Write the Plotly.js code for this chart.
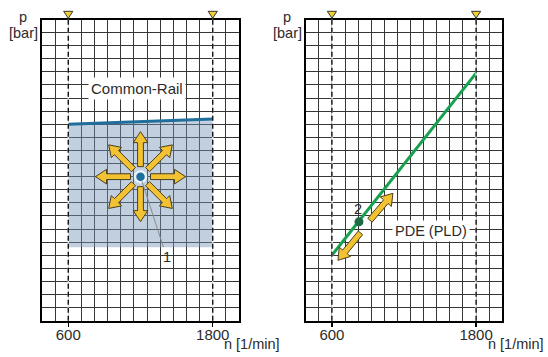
<!DOCTYPE html>
<html><head><meta charset="utf-8">
<script src="https://cdn.plot.ly/plotly-3.0.1.min.js"></script>
<style>html,body{margin:0;padding:0;background:#fff}#c{width:548px;height:357px}</style>
</head><body><div id="c"></div>
<script>
// ---- data ----
var speedTicks = [600, 1800];               // n [1/min]
var tickLabels = ['600', '1800'];
var railN = [600, 1800];                    // Common-Rail upper pressure line
var railP = [15.0, 15.4];
var mapN = [600, 1800, 1800, 600, 600];     // Common-Rail map area
var mapP = [5.6, 5.6, 15.4, 15.0, 5.6];
var opN1 = [1200], opP1 = [11.0];           // operating point 1
var pdeN = [600, 1800];                     // PDE (PLD) pressure line
var pdeP = [5.0, 18.9];
var opN2 = [825], opP2 = [7.55];            // operating point 2

// ---- geometry helpers ----
var cell = 1200 / 11;
var xr = [600 - 2 * cell, 1800 + 2 * cell];
var yr = [0, 23];
var yellow = '#f3c232', dark = '#4a3f1f';

function arrowPath(tx, ty, hx, hy) {
  var dx = hx - tx, dy = hy - ty, L = Math.sqrt(dx * dx + dy * dy);
  var ux = dx / L, uy = dy / L, nx = -uy, ny = ux;
  var w = 2.9, hw = 7.3, hl = 11;
  var kx = hx - ux * hl, ky = hy - uy * hl;
  var p = [
    [tx + nx * w, ty + ny * w], [kx + nx * w, ky + ny * w], [kx + nx * hw, ky + ny * hw],
    [hx, hy], [kx - nx * hw, ky - ny * hw], [kx - nx * w, ky - ny * w], [tx - nx * w, ty - ny * w]
  ];
  return 'M' + p.map(function (q) { return q[0].toFixed(1) + ',' + q[1].toFixed(1); }).join('L') + 'Z';
}
function arrowShape(xref, yref, ax, ay, tx, ty, hx, hy) {
  return {type: 'path', xref: xref, yref: yref, xsizemode: 'pixel', ysizemode: 'pixel',
    xanchor: ax, yanchor: ay, path: arrowPath(tx, ty, hx, hy),
    fillcolor: yellow, line: {color: dark, width: 1}, layer: 'above'};
}

var shapes = [];
// dashed speed-limit lines at 600 and 1800 in both panels, with marker triangles on top
[['x', 'y'], ['x2', 'y2']].forEach(function (r) {
  speedTicks.forEach(function (n) {
    shapes.push({type: 'line', xref: r[0], yref: r[1] + ' domain', x0: n, x1: n, y0: 0, y1: 1,
      line: {color: 'rgba(255,255,255,0.85)', width: 1.4}, layer: 'above'});
    shapes.push({type: 'line', xref: r[0], yref: r[1] + ' domain', x0: n, x1: n, y0: 0, y1: 1,
      line: {color: '#111', width: 1.4, dash: '5px,3px'}, layer: 'above'});
    shapes.push({type: 'path', xref: r[0], yref: r[1] + ' domain', xsizemode: 'pixel', ysizemode: 'pixel',
      xanchor: n, yanchor: 1, path: 'M-4.6,8.2L4.6,8.2L0,1.2Z',
      fillcolor: '#f0d030', line: {color: '#333', width: 1}, layer: 'above'});
  });
});
// eight arrows around point 1
var angles = [0, 45, 90, 135, 180, 225, 270, 315];
angles.forEach(function (a) {
  var r = a * Math.PI / 180, c = Math.cos(r), s = Math.sin(r);
  shapes.push(arrowShape('x', 'y', opN1[0], opP1[0], c * 10, s * 10, c * 45, s * 45));
});
// two arrows along PDE line near point 2
shapes.push(arrowShape('x2', 'y2', opN2[0], opP2[0], 11, 1.6, 34, 28.5));
shapes.push(arrowShape('x2', 'y2', opN2[0], opP2[0], 1.5, -11, -21, -38.5));

var txt = '#2b2b2b';
var fam = 'Liberation Sans, Arial, sans-serif';
var font = {family: fam, size: 14.5, color: txt};

function axX(dom, anchor) {
  return {domain: dom, anchor: anchor, range: xr, tickmode: 'array', tickvals: speedTicks, ticktext: tickLabels,
    ticks: 'outside', ticklen: 4, tickcolor: '#000', tickwidth: 1.2, ticklabelstandoff: -5,
    tickfont: {family: fam, size: 15, color: txt},
    showgrid: false,
    minor: {tick0: 600 - 2 * cell, dtick: cell, showgrid: true, gridcolor: '#363636', gridwidth: 1, ticks: ''},
    showline: true, mirror: true, linecolor: '#000', linewidth: 2, zeroline: false, fixedrange: true};
}
function axY(dom, anchor) {
  return {domain: dom, anchor: anchor, range: yr, dtick: 1, tick0: 0, showticklabels: false, ticks: '',
    showgrid: true, gridcolor: '#363636', gridwidth: 1, showline: true, mirror: true, linecolor: '#000',
    linewidth: 2, zeroline: false, fixedrange: true};
}

function paperText(px, py, text, xa) {
  return {xref: 'paper', yref: 'paper', x: px / 548, y: 1 - py / 357, xanchor: xa || 'center', yanchor: 'middle',
    text: text, showarrow: false, font: font};
}

var yd = [1 - 320.7 / 357, 1 - 19.5 / 357];
var layout = {
  width: 548, height: 357, margin: {l: 0, r: 0, t: 0, b: 0}, showlegend: false,
  paper_bgcolor: '#fff', plot_bgcolor: '#fff', font: font,
  xaxis: axX([42 / 548, 239 / 548], 'y'), yaxis: axY(yd, 'x'),
  xaxis2: axX([305.7 / 548, 502.3 / 548], 'y2'), yaxis2: axY(yd, 'x2'),
  shapes: shapes,
  annotations: [
    paperText(22.5, 17, 'p'),
    paperText(23, 33, '[bar]'),
    paperText(287, 17, 'p'),
    paperText(287.5, 33, '[bar]'),
    paperText(222, 344, 'n [1/min]', 'left'),
    paperText(486, 344, 'n [1/min]', 'left'),
    {xref: 'x', yref: 'y', x: 1170, y: 17.7, text: 'Common-Rail', showarrow: false, bgcolor: '#fff', borderpad: 2,
      font: {family: fam, size: 15, color: txt}},
    {xref: 'x', yref: 'y', x: opN1[0], y: opP1[0], text: '1', showarrow: true, arrowhead: 0, arrowcolor: '#8a8a8a',
      arrowwidth: 1, ax: 26, ay: 80, standoff: 5, font: font},
    {xref: 'x2', yref: 'y2', x: 1425, y: 6.85, text: 'PDE (PLD)', showarrow: false, bgcolor: '#fff', borderpad: 2, font: font},
    {xref: 'x2', yref: 'y2', x: opN2[0], y: opP2[0], text: '2', showarrow: false, yshift: 13, xshift: -1, font: font}
  ]
};

var traces = [
  {x: mapN, y: mapP, xaxis: 'x', yaxis: 'y', mode: 'none', fill: 'toself', fillcolor: 'rgba(120,148,182,0.45)', hoverinfo: 'skip'},
  {x: railN, y: railP, xaxis: 'x', yaxis: 'y', mode: 'lines', line: {color: '#1f6e9c', width: 3}},
  {x: opN1, y: opP1, xaxis: 'x', yaxis: 'y', mode: 'markers', marker: {size: 11, color: '#1f6e9c', line: {color: '#e8f2fa', width: 2.5}}},
  {x: pdeN, y: pdeP, xaxis: 'x2', yaxis: 'y2', mode: 'lines', line: {color: '#16a050', width: 3}},
  {x: opN2, y: opP2, xaxis: 'x2', yaxis: 'y2', mode: 'markers', marker: {size: 9, color: '#1d6b45'}}
];

Plotly.newPlot('c', traces, layout, {staticPlot: true});
</script></body></html>
